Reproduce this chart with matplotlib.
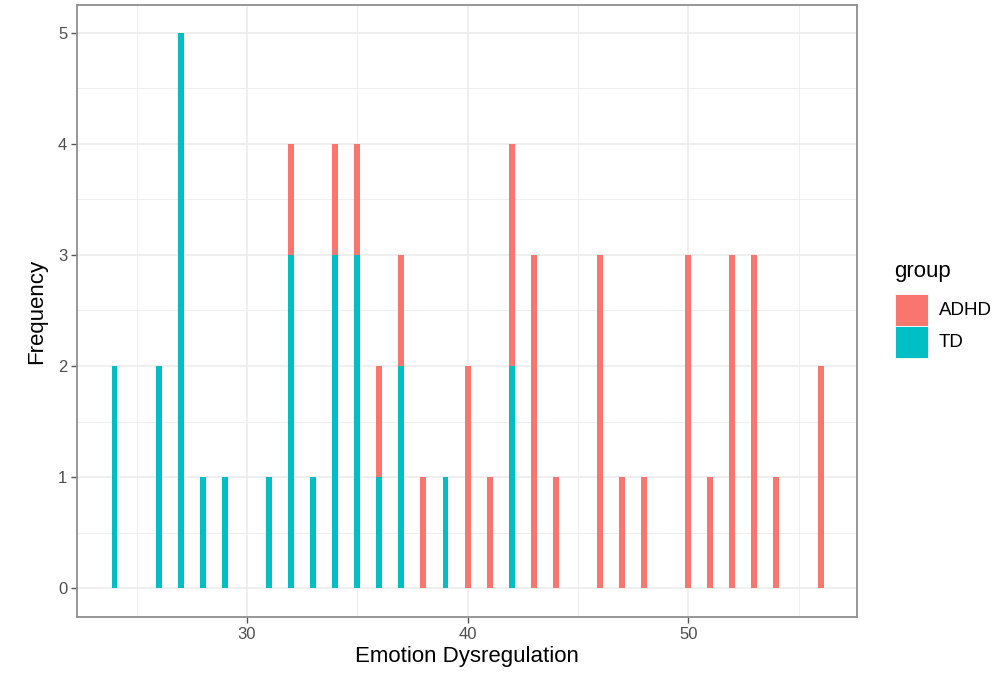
import numpy as np
import matplotlib
matplotlib.use("Agg")
import matplotlib.pyplot as plt
from matplotlib.patches import Patch

plt.rcParams['font.family'] = ['Liberation Sans', 'DejaVu Sans']

# bin centres and counts per group
scores = [24, 26, 27, 28, 29, 31, 32, 33, 34, 35, 36, 37, 38, 39,
          40, 41, 42, 43, 44, 46, 47, 48, 50, 51, 52, 53, 54, 56]
td_counts = [2, 2, 5, 1, 1, 1, 3, 1, 3, 3, 1, 2, 0, 1,
             0, 0, 2, 0, 0, 0, 0, 0, 0, 0, 0, 0, 0, 0]
adhd_counts = [0, 0, 0, 0, 0, 0, 1, 0, 1, 1, 1, 1, 1, 0,
               2, 1, 2, 3, 1, 3, 1, 1, 3, 1, 3, 3, 1, 2]
groups = ['ADHD', 'TD']
colors = {'ADHD': '#F8766D', 'TD': '#00BFC4'}

fig = plt.figure(figsize=(9.99, 6.74), dpi=100)
ax = fig.add_axes([77 / 999, 57 / 674, 780 / 999, 612 / 674])

td = np.array(td_counts)
adhd = np.array(adhd_counts)
ax.bar(scores, td, width=0.27, color=colors['TD'], zorder=3)
ax.bar(scores, adhd, width=0.27, bottom=td, color=colors['ADHD'], zorder=3)

ax.set_xlim(22.3, 57.65)
ax.set_ylim(-0.26, 5.25)
ax.set_xticks([30, 40, 50])
ax.set_xticks([25, 35, 45, 55], minor=True)
ax.set_yticks([0, 1, 2, 3, 4, 5])
ax.set_yticks([0.5, 1.5, 2.5, 3.5, 4.5], minor=True)

ax.grid(which='major', color='#EBEBEB', linewidth=1.1, zorder=0)
ax.grid(which='minor', color='#EBEBEB', linewidth=0.55, zorder=0)
ax.set_axisbelow(True)

for s in ax.spines.values():
    s.set_color('#8F8F8F')
    s.set_linewidth(1.3)

ax.tick_params(which='major', length=4, width=1.0, color='#555555',
               labelcolor='#4D4D4D', labelsize=12, pad=3)
ax.tick_params(which='minor', length=0)

ax.set_xlabel('Emotion Dysregulation', fontsize=16, color='black', labelpad=3)
ax.set_ylabel('Frequency', fontsize=16, color='black', labelpad=8)

handles = [Patch(facecolor=colors[g], edgecolor='white', linewidth=0.6, label=g)
           for g in groups]
leg = fig.legend(handles=handles, title='group', loc='upper left',
                 bbox_to_anchor=(887 / 999, 1 - 254 / 674), frameon=False,
                 fontsize=13.5, title_fontsize=16, handlelength=1.76,
                 handleheight=2.25, handletextpad=0.6, labelspacing=0.0,
                 borderaxespad=0)
leg._legend_box.align = 'left'
leg._legend_box.sep = 8

fig.savefig('out.png', dpi=100)
